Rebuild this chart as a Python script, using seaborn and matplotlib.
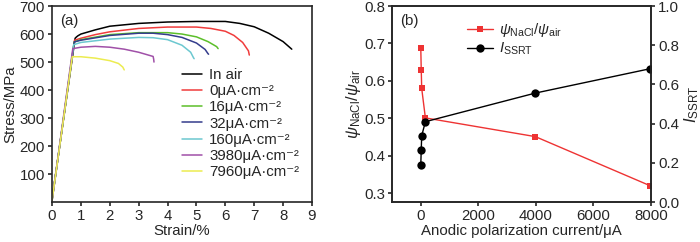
import pandas as pd
import matplotlib
matplotlib.use("Agg")
import matplotlib.pyplot as plt
import seaborn as sns

# ===== DATA =====
labels = ["In air", "0μA·cm⁻²", "16μA·cm⁻²", "32μA·cm⁻²",
          "160μA·cm⁻²", "3980μA·cm⁻²", "7960μA·cm⁻²"]
colors = ["#000000", "#f03c3c", "#5cbf2a", "#343c8c", "#6cc8d0", "#a050a8", "#ecec50"]

strain_air = [0, 0.8, 0.85, 0.9, 1.0, 1.5, 2, 3, 4, 5, 6, 6.5, 7, 7.5, 8, 8.3]
stress_air = [10, 585, 590, 594, 600, 615, 628, 638, 643, 645, 645, 638, 626, 603, 573, 546]
strain_0 = [0, 0.78, 1, 1.5, 2, 3, 4, 5, 5.5, 6, 6.3, 6.6, 6.8, 6.83]
stress_0 = [5, 578, 585, 598, 608, 620, 625, 625, 620, 610, 595, 570, 540, 525]
strain_16 = [0, 0.77, 1, 2, 3, 4, 4.5, 5, 5.4, 5.7, 5.75]
stress_16 = [5, 572, 580, 598, 605, 605, 600, 590, 573, 555, 548]
strain_32 = [0, 0.77, 1, 2, 3, 3.5, 4, 4.5, 5, 5.3, 5.4, 5.42]
stress_32 = [5, 572, 578, 595, 603, 603, 598, 588, 568, 545, 530, 528]
strain_160 = [0, 0.75, 1, 2, 3, 3.5, 4, 4.5, 4.8, 4.9, 4.92]
stress_160 = [5, 562, 570, 582, 588, 587, 580, 560, 535, 515, 512]
strain_3980 = [0, 0.72, 1, 1.5, 2, 2.5, 3, 3.5, 3.52, 3.53]
stress_3980 = [5, 548, 553, 556, 553, 546, 535, 520, 510, 500]
strain_7960 = [0, 0.7, 1, 1.5, 2, 2.3, 2.45, 2.5]
stress_7960 = [5, 519, 519, 514, 505, 495, 482, 472]

current = [0, 16, 32, 160, 3980, 7960]
psi_ratio = [0.688, 0.630, 0.580, 0.501, 0.451, 0.320]
i_ssrt = [0.19, 0.267, 0.338, 0.41, 0.556, 0.68]

curves = [(strain_air, stress_air), (strain_0, stress_0), (strain_16, stress_16),
          (strain_32, stress_32), (strain_160, stress_160), (strain_3980, stress_3980),
          (strain_7960, stress_7960)]
df = pd.concat([pd.DataFrame({"strain": sx, "stress": sy, "curve": lab})
                for (sx, sy), lab in zip(curves, labels)], ignore_index=True)

# ===== STYLE =====
sns.set_style("ticks")
plt.rcParams["font.family"] = ["Liberation Sans", "DejaVu Sans"]
plt.rcParams["mathtext.fontset"] = "custom"
plt.rcParams["mathtext.rm"] = "Liberation Sans"
plt.rcParams["mathtext.it"] = "Liberation Sans:italic"
plt.rcParams["axes.linewidth"] = 1.2
plt.rcParams["xtick.major.width"] = 1.2
plt.rcParams["ytick.major.width"] = 1.2
plt.rcParams["xtick.major.size"] = 3
plt.rcParams["ytick.major.size"] = 3

FS = 10.8

fig = plt.figure(figsize=(7, 2.42), dpi=100)
ax = fig.add_axes([0.0743, 0.165, 0.3714, 0.81])
axb = fig.add_axes([0.56, 0.165, 0.37, 0.81])

# ===== PANEL A =====
sns.lineplot(data=df, x="strain", y="stress", hue="curve", palette=colors,
             sort=False, estimator=None, lw=1.1, ax=ax)
ax.set_xlim(0, 9)
ax.set_ylim(0, 700)
ax.set_xticks(range(0, 10))
ax.set_yticks(range(100, 701, 100))
ax.tick_params(labelsize=FS, pad=2)
ax.set_xlabel("Strain/%", fontsize=FS, labelpad=1)
ax.set_ylabel("Stress/MPa", fontsize=FS, labelpad=2)
ax.text(0.03, 0.96, "(a)", transform=ax.transAxes, fontsize=FS, va="top")
h, l = ax.get_legend_handles_labels()
ax.legend(h, l, loc="upper left", bbox_to_anchor=(0.5, 0.685), frameon=False,
          fontsize=FS, labelspacing=0.15, handlelength=1.3, handletextpad=0.5,
          borderpad=0, borderaxespad=0)

# ===== PANEL B =====
sns.lineplot(x=current, y=psi_ratio, ax=axb, color="#ee3333", marker="s",
             markersize=5, markeredgewidth=0, lw=1, sort=False,
             label=r"$\psi_{\rm NaCl}/\psi_{\rm air}$")
axb.set_xlim(-1000, 8000)
axb.set_ylim(0.276, 0.8)
axb.set_xticks(range(0, 8001, 2000))
axb.set_yticks([0.3, 0.4, 0.5, 0.6, 0.7, 0.8])
axb.tick_params(labelsize=FS, pad=2)
axb.set_xlabel("Anodic polarization current/μA", fontsize=FS, labelpad=1)
axb.set_ylabel(r"$\psi_{\rm NaCl}/\psi_{\rm air}$", fontsize=12, labelpad=1)

ax2 = axb.twinx()
sns.lineplot(x=current, y=i_ssrt, ax=ax2, color="black", marker="o",
             markersize=6, markeredgewidth=0, lw=1, sort=False,
             label=r"$I_{\rm SSRT}$")
ax2.set_ylim(0, 1.0)
ax2.set_yticks([0, 0.2, 0.4, 0.6, 0.8, 1.0])
ax2.set_yticklabels(["0.0", "0.2", "0.4", "0.6", "0.8", "1.0"])
ax2.tick_params(labelsize=FS, pad=2)
ax2.set_ylabel(r"$I_{\rm SSRT}$", fontsize=12, labelpad=2)
for s in ax2.spines.values():
    s.set_linewidth(1.2)

axb.text(0.03, 0.96, "(b)", transform=axb.transAxes, fontsize=FS, va="top")
h1, l1 = axb.get_legend_handles_labels()
h2, l2 = ax2.get_legend_handles_labels()
axb.get_legend().remove()
ax2.get_legend().remove()
ax2.legend(h1 + h2, l1 + l2, loc="upper left", bbox_to_anchor=(0.29, 0.925),
           frameon=False, fontsize=FS, labelspacing=0.15, handlelength=1.7,
           handletextpad=0.4, borderpad=0, borderaxespad=0)

fig.savefig("out.png", dpi=100)
